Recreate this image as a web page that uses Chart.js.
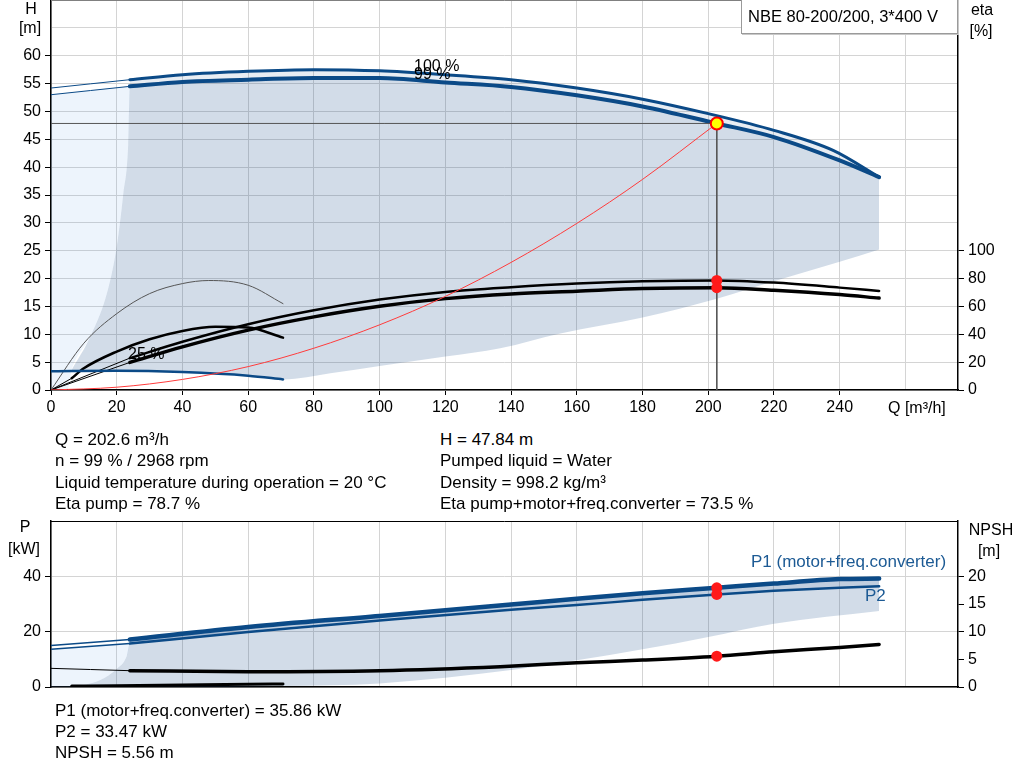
<!DOCTYPE html>
<html>
<head>
<meta charset="utf-8">
<script src="https://cdn.jsdelivr.net/npm/chart.js@4.4.1/dist/chart.umd.min.js"></script>
<style>
  body { margin: 0; background: #fff; }
  #page { position: relative; width: 1024px; height: 781px; overflow: hidden;
          font: 17px "Liberation Sans", Arial, sans-serif; color: #000; }
  .t { position: absolute; white-space: nowrap; line-height: 20px; }
  .c { text-align: center; }
  .s { font-size: 16px; }
  canvas { position: absolute; left: 0; }
  #box { position: absolute; left: 741px; top: -1px; width: 217px; height: 35px; box-sizing: border-box;
         border: 1px solid #9a9a9a; box-shadow: 1px 1px 0 #c8c8c8; background: #fff;
         line-height: 32px; padding-left: 6px; font-size: 16.5px; }
</style>
</head>
<body>
<div id="page">
  <canvas id="qhChart" style="top:0"></canvas>
  <canvas id="powerChart" style="top:505px"></canvas>

  <div id="box">NBE 80-200/200, 3*400 V</div>

  <div class="t c s" style="left:16px;width:30px;top:-1px">H</div>
  <div class="t c s" style="left:10px;width:40px;top:18px">[m]</div>
  <div class="t c s" style="left:962px;width:40px;top:0">eta</div>
  <div class="t c s" style="left:961px;width:40px;top:21px">[%]</div>
  <div class="t s" style="left:888px;top:398px">Q [m³/h]</div>
  <div class="t s" style="left:414px;top:56px">100 %</div>
  <div class="t s" style="left:414px;top:64px">99 %</div>
  <div class="t s" style="left:128px;top:344px">25 %</div>

  <div class="t" style="left:55px;top:430px">Q = 202.6 m³/h</div>
  <div class="t" style="left:55px;top:451px">n = 99 % / 2968 rpm</div>
  <div class="t" style="left:55px;top:473px">Liquid temperature during operation = 20 °C</div>
  <div class="t" style="left:55px;top:494px">Eta pump = 78.7 %</div>
  <div class="t" style="left:440px;top:430px">H = 47.84 m</div>
  <div class="t" style="left:440px;top:451px">Pumped liquid = Water</div>
  <div class="t" style="left:440px;top:473px">Density = 998.2 kg/m³</div>
  <div class="t" style="left:440px;top:494px">Eta pump+motor+freq.converter = 73.5 %</div>

  <div class="t c s" style="left:5px;width:40px;top:517px">P</div>
  <div class="t c s" style="left:4px;width:40px;top:539px">[kW]</div>
  <div class="t c s" style="left:966px;width:50px;top:520px">NPSH</div>
  <div class="t c s" style="left:969px;width:40px;top:541px">[m]</div>
  <div class="t" style="left:751px;top:552px;color:#1c5a94">P1 (motor+freq.converter)</div>
  <div class="t" style="left:865px;top:586px;color:#1c5a94">P2</div>

  <div class="t" style="left:55px;top:701px">P1 (motor+freq.converter) = 35.86 kW</div>
  <div class="t" style="left:55px;top:722px">P2 = 33.47 kW</div>
  <div class="t" style="left:55px;top:743px">NPSH = 5.56 m</div>
</div>

<script>
// ---- Q/H chart data ----
const qExt = [0, 24];
const h100Ext = [54.2, 55.7];
const h99Ext = [53.0, 54.5];
const qH100 = [24, 40, 60, 80, 100, 120, 140, 160, 180, 200, 220, 238, 252];
const h100 = [55.7, 56.6, 57.2, 57.5, 57.3, 56.6, 55.7, 54.2, 52.2, 49.6, 46.6, 43.0, 38.2];
const qH99 = [24, 40, 60, 80, 100, 120, 140, 160, 180, 202.6, 220, 240, 252];
const h99 = [54.5, 55.3, 55.7, 56.0, 56.0, 55.2, 54.4, 52.9, 50.9, 47.84, 45.4, 41.2, 38.2];

// operating area boundaries
const qEdge = [6.3, 11.9, 17, 20, 22, 23.5];
const hEdge = [3.6, 9.5, 17.3, 25.7, 35.2, 44.2];
const qFloor = [85, 100, 120, 136.7, 155, 180, 202.6, 220, 240, 252];
const hFloor = [3.0, 4.3, 6.0, 7.5, 10.15, 13.0, 16.4, 19.5, 23.0, 25.2];

// 25 % speed curves
const q25 = [0, 6.3, 20, 40, 60, 70.6];
const h25 = [3.35, 3.4, 3.46, 3.22, 2.57, 1.9];
const qEta25 = [0, 10, 20, 30, 40, 48, 60, 70.6];
const eta25 = [0, 33.6, 54.8, 69.2, 76.4, 78.6, 75.2, 62];
const qEtaTot25 = [6.3, 10, 20, 30, 40, 50, 60, 70.6];
const etaTot25 = [8.4, 15.6, 27.6, 36.4, 42.4, 45.4, 44.8, 37.6];

// efficiency curves
const qEta = [24, 40, 60, 80, 100, 120, 140, 160, 180, 202.6, 220, 240, 252];
const etaPump = [22.9, 34.6, 47.2, 57.2, 64.9, 70.4, 73.8, 76.4, 78.0, 78.7, 77.1, 73.5, 71.1];
const etaTotal = [19.8, 31, 43, 52.5, 60.1, 65.6, 69.0, 70.9, 72.8, 73.5, 71.6, 68.5, 66];
const etaPumpExt = [0, 22.9];
const etaTotalExt = [0, 19.8];

// system curve and duty point
const qSys = [0, 20, 40, 60, 80, 100, 120, 140, 160, 180, 202.6];
const hSys = [0, 0.5, 1.9, 4.2, 7.5, 11.7, 16.8, 22.9, 29.9, 37.8, 47.84];
const dutyQ = 202.6;
const dutyH = 47.84;
const dutyEta = [78.7, 73.5];

// ---- power / NPSH chart data ----
const p1Ext = [15.0, 17.2];
const p2Ext = [13.6, 15.7];
const qP = [24, 60, 100, 140, 160, 180, 202.6, 220, 240, 252];
const p1 = [17.2, 21.7, 25.7, 29.8, 31.9, 33.9, 35.86, 37.4, 39.0, 39.2];
const p2 = [15.7, 19.9, 24.0, 27.9, 29.6, 31.5, 33.47, 34.8, 35.9, 36.4];
const qPEdge = [5, 10, 15, 20, 23];
const pEdge = [0, 0.7, 2.5, 6.5, 11];
const qPFloor = [5, 40, 70, 100, 140, 180, 200, 220, 252];
const pFloor = [0, 0, 0.4, 1.3, 6.1, 13.6, 18.1, 22.9, 27.5];
const q25P = [6.3, 20, 40, 60, 70.6];
const p25 = [0.35, 0.45, 0.7, 0.95, 1.1];
const qNpsh = [24, 60, 100, 136.7, 160, 180, 202.6, 220, 240, 252];
const npsh = [2.95, 2.76, 2.94, 3.66, 4.38, 4.86, 5.56, 6.36, 7.15, 7.7];
const npshExt = [3.37, 2.95];
const dutyP = [35.86, 33.47];
const dutyNpsh = 5.56;

// ---- helpers ----
const BLUE = '#0b4a87';
const AREA = 'rgba(30, 80, 140, 0.2)';
const LIGHT = 'rgba(80, 150, 230, 0.1)';
const BAND = 'rgba(30, 80, 140, 0.1)';
const GRID = '#d4d4d4';
const FONT = { family: '"Liberation Sans", Arial, sans-serif', size: 16 };

const pts = (xs, ys) => xs.map((x, i) => ({ x, y: ys[i] }));

const curve = (data, color, width, extra) => Object.assign({
    data, borderColor: color, borderWidth: width, pointRadius: 0,
    fill: false, cubicInterpolationMode: 'monotone', borderCapStyle: 'round', order: 5
}, extra || {});

const boundary = (data, extra) => Object.assign({
    data, borderWidth: 0, borderColor: 'transparent', pointRadius: 0,
    fill: false, cubicInterpolationMode: 'monotone', order: 30
}, extra || {});

const frame = {
    id: 'frame',
    afterDatasetsDraw(chart, args, opts) {
        const { ctx, chartArea: a } = chart;
        ctx.save();
        ctx.strokeStyle = opts.color || '#000';
        ctx.lineWidth = 1;
        ctx.beginPath();
        ctx.moveTo(a.left, a.top + 0.5);
        ctx.lineTo(a.right, a.top + 0.5);
        ctx.stroke();
        ctx.restore();
    }
};

const noPad = (size, key) => s => {
    s[key] = size;
    s.paddingLeft = 0; s.paddingRight = 0; s.paddingTop = 0; s.paddingBottom = 0;
};

const xScale = (showLabels, height) => ({
    type: 'linear', min: 0, max: 276,
    afterBuildTicks: s => { s.ticks = s.ticks.filter(t => t.value % 20 === 0); },
    afterFit: noPad(height, 'height'),
    ticks: {
        display: showLabels, stepSize: 20, autoSkip: false, maxRotation: 0,
        color: '#000', font: FONT, padding: 3,
        callback: v => (v <= 240 ? v : '')
    },
    grid: {
        color: GRID, tickLength: 5, drawTicks: showLabels,
        tickColor: c => (c.tick && c.tick.value <= 240 ? '#000' : 'transparent')
    },
    border: { color: '#000', width: 1.5 }
});

const yScale = (pos, max, step, labelMax, width, onArea) => ({
    type: 'linear', position: pos, min: 0, max,
    afterFit: noPad(width, 'width'),
    ticks: {
        stepSize: step, color: '#000', font: FONT, padding: 4,
        callback: v => (v <= labelMax ? v : '')
    },
    grid: {
        color: GRID, drawOnChartArea: onArea, tickLength: 6,
        tickColor: c => (c.tick && c.tick.value <= labelMax ? '#000' : 'transparent')
    },
    border: { color: '#000', width: 1.5 }
});

const baseOptions = (scales, frameColor, pad) => ({
    responsive: false,
    animation: false,
    layout: { padding: pad, autoPadding: false },
    scales,
    plugins: { legend: { display: false }, tooltip: { enabled: false }, frame: { color: frameColor } }
});

// ---- Q/H chart ----
const initQHChart = () => {
    const ds = [];
    const add = d => { ds.push(d); return ds.length - 1; };

    // light area left of the operating range
    const lightLow = add(boundary(pts([0, 5].concat(qEdge, [24]), [0, 0].concat(hEdge, [54.5]))));
    add(boundary(pts(qExt, h99Ext), { fill: { target: lightLow }, backgroundColor: LIGHT, order: 29 }));

    // operating area
    const floor = add(boundary(pts(q25.slice(1).concat(qFloor), h25.slice(1).concat(hFloor))));
    add(boundary(pts(qEdge.concat(qH99), hEdge.concat(h99)), { fill: { target: floor }, backgroundColor: AREA, order: 29 }));

    // H curves
    const h99Line = add(curve(pts(qH99, h99), BLUE, 4, { order: 6 }));
    add(curve(pts(qH100, h100), BLUE, 3, { fill: { target: h99Line }, backgroundColor: BAND, order: 7 }));
    add(curve(pts(qExt, h100Ext), BLUE, 1));
    add(curve(pts(qExt, h99Ext), BLUE, 1));
    add(curve(pts(q25, h25), BLUE, 2.5));

    // system curve and crosshair
    add(curve(pts(qSys, hSys), '#ff3b3b', 1, { order: 4 }));
    add(curve(pts([0, dutyQ], [dutyH, dutyH]), '#555', 1, { cubicInterpolationMode: 'default', order: 4 }));
    add(curve(pts([dutyQ, dutyQ], [dutyH, 0]), '#555', 1, { cubicInterpolationMode: 'default', order: 4 }));

    // efficiency curves
    add(curve(pts(qEta, etaPump), '#000', 2.5, { yAxisID: 'y2' }));
    add(curve(pts(qEta, etaTotal), '#000', 3.5, { yAxisID: 'y2' }));
    add(curve(pts(qExt, etaPumpExt), '#000', 1, { yAxisID: 'y2' }));
    add(curve(pts(qExt, etaTotalExt), '#000', 1, { yAxisID: 'y2' }));
    add(curve(pts(qEta25, eta25), '#555', 1, { yAxisID: 'y2' }));
    add(curve(pts(qEtaTot25, etaTot25), '#000', 2.5, { yAxisID: 'y2' }));
    add(curve(pts([0, qEtaTot25[0]], [0, etaTot25[0]]), '#000', 1, { yAxisID: 'y2' }));

    // duty point markers
    add({ data: pts([dutyQ, dutyQ], dutyEta), yAxisID: 'y2', showLine: false,
          pointRadius: 5.5, pointBackgroundColor: '#ff1a1a', pointBorderWidth: 0, order: 1 });
    add({ data: pts([dutyQ], [dutyH]), showLine: false, pointRadius: 6,
          pointBackgroundColor: '#ffff00', pointBorderColor: '#ff0000', pointBorderWidth: 2, order: 0 });

    const canvas = document.getElementById('qhChart');
    canvas.width = 1024; canvas.height = 420;
    return new Chart(canvas, {
        type: 'line',
        data: { datasets: ds },
        options: baseOptions({
            x: xScale(true, 30),
            y: yScale('left', 70, 5, 60, 51, true),
            y2: yScale('right', 280, 20, 100, 66, false)
        }, '#808080', { top: 0 }),
        plugins: [frame]
    });
};

// ---- power / NPSH chart ----
const initPowerChart = () => {
    const ds = [];
    const add = d => { ds.push(d); return ds.length - 1; };

    const lightLow = add(boundary(pts([0].concat(qPEdge, [24]), [0].concat(pEdge, [15.7]))));
    add(boundary(pts(qExt, p2Ext), { fill: { target: lightLow }, backgroundColor: LIGHT, order: 29 }));

    const floor = add(boundary(pts(qPFloor, pFloor)));
    add(boundary(pts(qPEdge.concat(qP), pEdge.concat(p2)), { fill: { target: floor }, backgroundColor: AREA, order: 29 }));

    const p2Line = add(curve(pts(qP, p2), BLUE, 2.5, { order: 6 }));
    add(curve(pts(qP, p1), BLUE, 4.5, { fill: { target: p2Line }, backgroundColor: 'rgba(30, 80, 140, 0.28)', order: 7 }));
    add(curve(pts(qExt, p1Ext), BLUE, 1.5));
    add(curve(pts(qExt, p2Ext), BLUE, 1.5));
    add(curve(pts(q25P, p25), '#000', 3));

    add(curve(pts(qNpsh, npsh), '#000', 3.5, { yAxisID: 'y2' }));
    add(curve(pts(qExt, npshExt), '#000', 1, { yAxisID: 'y2' }));

    add({ data: pts([dutyQ, dutyQ], dutyP), showLine: false,
          pointRadius: 5.5, pointBackgroundColor: '#ff1a1a', pointBorderWidth: 0, order: 1 });
    add({ data: pts([dutyQ], [dutyNpsh]), yAxisID: 'y2', showLine: false,
          pointRadius: 5.5, pointBackgroundColor: '#ff1a1a', pointBorderWidth: 0, order: 1 });

    const canvas = document.getElementById('powerChart');
    canvas.width = 1024; canvas.height = 200;
    return new Chart(canvas, {
        type: 'line',
        data: { datasets: ds },
        options: baseOptions({
            x: xScale(false, 18),
            y: yScale('left', 60, 20, 40, 51, true),
            y2: yScale('right', 30, 5, 20, 66, false)
        }, '#000', { top: 16 }),
        plugins: [frame]
    });
};

initQHChart();
initPowerChart();
</script>
</body>
</html>
